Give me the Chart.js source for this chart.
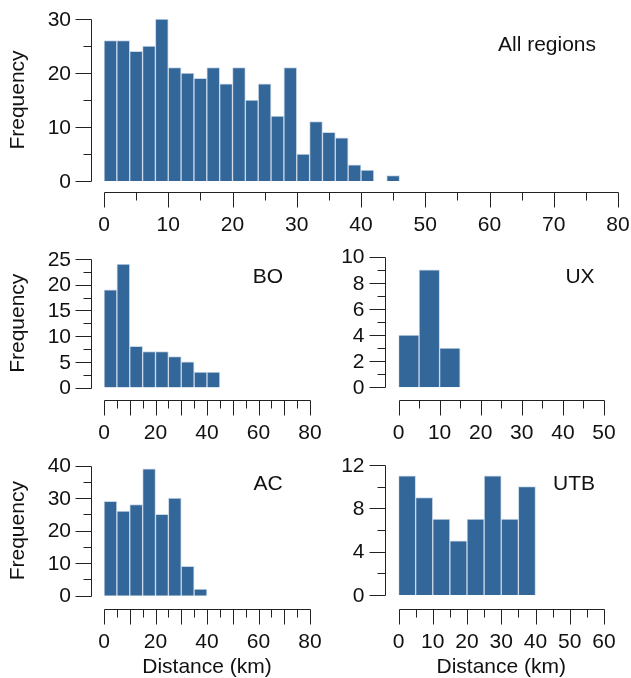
<!DOCTYPE html>
<html>
<head>
<meta charset="utf-8">
<script src="https://cdn.jsdelivr.net/npm/chart.js@4.4.0/dist/chart.umd.min.js"></script>
<style>
  html, body { margin: 0; padding: 0; background: #ffffff; }
  #wrap { position: relative; width: 631px; height: 678px; }
  #wrap canvas { position: absolute; left: 0; top: 0; }
</style>
</head>
<body>
<div id="wrap">
  <canvas id="cAll" width="631" height="678"></canvas>
  <canvas id="cBO" width="631" height="678"></canvas>
  <canvas id="cUX" width="631" height="678"></canvas>
  <canvas id="cAC" width="631" height="678"></canvas>
  <canvas id="cUTB" width="631" height="678"></canvas>
</div>
<script>
// ---------- DATA ----------
// All regions: bins of 2 km (midpoints), counts
const allMids   = [1, 3, 5, 7, 9, 11, 13, 15, 17, 19, 21, 23, 25, 27, 29, 31, 33, 35, 37, 39, 41, 43, 45];
const allCounts = [26, 26, 24, 25, 30, 21, 20, 19, 21, 18, 21, 15, 18, 12, 21, 5, 11, 9, 8, 3, 2, 0, 1];

// BO: bins of 5 km
const boMids   = [2.5, 7.5, 12.5, 17.5, 22.5, 27.5, 32.5, 37.5, 42.5];
const boCounts = [19, 24, 8, 7, 7, 6, 5, 3, 3];

// UX: bins of 5 km
const uxMids   = [2.5, 7.5, 12.5];
const uxCounts = [4, 9, 3];

// AC: bins of 5 km
const acMids   = [2.5, 7.5, 12.5, 17.5, 22.5, 27.5, 32.5, 37.5];
const acCounts = [29, 26, 28, 39, 25, 30, 9, 2];

// UTB: bins of 5 km
const utbMids   = [2.5, 7.5, 12.5, 17.5, 22.5, 27.5, 32.5, 37.5];
const utbCounts = [11, 9, 7, 5, 7, 11, 7, 10];

// Tick values
const allXMajor = [0, 10, 20, 30, 40, 50, 60, 70, 80];
const allXMinor = [5, 15, 25, 35, 45, 55, 65, 75];
const allXLabels = [0, 10, 20, 30, 40, 50, 60, 70, 80];
const allYMajor = [0, 10, 20, 30];
const allYMinor = [5, 15, 25];

const km80Major = [0, 10, 20, 30, 40, 50, 60, 70, 80];
const km80Minor = [5, 15, 25, 35, 45, 55, 65, 75];
const km80Labels = [0, 20, 40, 60, 80];

const km50Major = [0, 10, 20, 30, 40, 50];
const km50Minor = [5, 15, 25, 35, 45];
const km50Labels = [0, 10, 20, 30, 40, 50];

const km60Major = [0, 10, 20, 30, 40, 50, 60];
const km60Minor = [5, 15, 25, 35, 45, 55];
const km60Labels = [0, 10, 20, 30, 40, 50, 60];

const boYMajor = [0, 5, 10, 15, 20, 25];
const boYMinor = [2.5, 7.5, 12.5, 17.5, 22.5];
const uxYMajor = [0, 2, 4, 6, 8, 10];
const uxYMinor = [1, 3, 5, 7, 9];
const acYMajor = [0, 10, 20, 30, 40];
const acYMinor = [5, 15, 25, 35];
const utbYMajor = [0, 4, 8, 12];
const utbYMinor = [2, 6, 10];

const yTitle = 'Frequency';
const xTitle = 'Distance (km)';

// ---------- STYLE / LAYOUT ----------
const W = 631, H = 678;
const BAR_COLOR = '#336699';
const BAR_EDGE = '#cbd8e8';
const INK = '#111111';
const AXIS = '#222222';
const FONT = '21px "Liberation Sans", Arial, Helvetica, sans-serif';

const panels = [
  { id: 'cAll', mids: allMids, counts: allCounts, xMax: 80, yMax: 30,
    area: { left: 104, right: 618, top: 19, bottom: 181 }, yAxisX: 91, xAxisY: 192,
    xMajor: allXMajor, xMinor: allXMinor, xLabels: allXLabels, yMajor: allYMajor, yMinor: allYMinor,
    label: 'All regions', labelPos: [547, 45], yTitle: true, xTitle: false },
  { id: 'cBO', mids: boMids, counts: boCounts, xMax: 80, yMax: 25,
    area: { left: 104, right: 310, top: 259, bottom: 387.5 }, yAxisX: 91, xAxisY: 400,
    xMajor: km80Major, xMinor: km80Minor, xLabels: km80Labels, yMajor: boYMajor, yMinor: boYMinor,
    label: 'BO', labelPos: [268, 277], yTitle: true, xTitle: false },
  { id: 'cUX', mids: uxMids, counts: uxCounts, xMax: 50, yMax: 10,
    area: { left: 398.5, right: 604, top: 256.7, bottom: 387.3 }, yAxisX: 384.5, xAxisY: 400,
    xMajor: km50Major, xMinor: km50Minor, xLabels: km50Labels, yMajor: uxYMajor, yMinor: uxYMinor,
    label: 'UX', labelPos: [580, 277], yTitle: false, xTitle: false },
  { id: 'cAC', mids: acMids, counts: acCounts, xMax: 80, yMax: 40,
    area: { left: 104, right: 310, top: 465.7, bottom: 595.7 }, yAxisX: 91, xAxisY: 609,
    xMajor: km80Major, xMinor: km80Minor, xLabels: km80Labels, yMajor: acYMajor, yMinor: acYMinor,
    label: 'AC', labelPos: [268, 484], yTitle: true, xTitle: true },
  { id: 'cUTB', mids: utbMids, counts: utbCounts, xMax: 60, yMax: 12,
    area: { left: 398.5, right: 604, top: 465, bottom: 595 }, yAxisX: 384.5, xAxisY: 609,
    xMajor: km60Major, xMinor: km60Minor, xLabels: km60Labels, yMajor: utbYMajor, yMinor: utbYMinor,
    label: 'UTB', labelPos: [574, 484], yTitle: false, xTitle: true }
];

const px = v => Math.round(v) + 0.5;

const axesPlugin = {
  id: 'rAxes',
  afterDraw(chart) {
    const p = chart.config.options.plugins.rAxes;
    const ctx = chart.ctx;
    const xs = chart.scales.x, ys = chart.scales.y;
    ctx.save();
    ctx.strokeStyle = AXIS;
    ctx.lineWidth = 1;
    ctx.fillStyle = INK;
    ctx.font = FONT;

    // Y axis
    const yx = px(p.yAxisX);
    const yTop = ys.getPixelForValue(p.yMajor[p.yMajor.length - 1]);
    const yBot = ys.getPixelForValue(p.yMajor[0]);
    ctx.beginPath();
    ctx.moveTo(yx, Math.round(yTop) + 0.5);
    ctx.lineTo(yx, Math.round(yBot) + 0.5);
    p.yMajor.forEach(v => {
      const y = Math.round(ys.getPixelForValue(v)) + 0.5;
      ctx.moveTo(yx, y); ctx.lineTo(yx - 16, y);
    });
    p.yMinor.forEach(v => {
      const y = Math.round(ys.getPixelForValue(v)) + 0.5;
      ctx.moveTo(yx, y); ctx.lineTo(yx - 8, y);
    });
    ctx.stroke();
    ctx.textAlign = 'right';
    ctx.textBaseline = 'middle';
    p.yMajor.forEach(v => {
      ctx.fillText(String(v), p.yAxisX - 20, ys.getPixelForValue(v) + 1);
    });

    // X axis
    const xy = px(p.xAxisY);
    const xL = xs.getPixelForValue(p.xMajor[0]);
    const xR = xs.getPixelForValue(p.xMajor[p.xMajor.length - 1]);
    ctx.beginPath();
    ctx.moveTo(Math.round(xL) + 0.5, xy);
    ctx.lineTo(Math.round(xR) + 0.5, xy);
    p.xMajor.forEach(v => {
      const x = Math.round(xs.getPixelForValue(v)) + 0.5;
      ctx.moveTo(x, xy); ctx.lineTo(x, xy + 15);
    });
    p.xMinor.forEach(v => {
      const x = Math.round(xs.getPixelForValue(v)) + 0.5;
      ctx.moveTo(x, xy); ctx.lineTo(x, xy + 8);
    });
    ctx.stroke();
    ctx.textAlign = 'center';
    ctx.textBaseline = 'middle';
    p.xLabels.forEach(v => {
      ctx.fillText(String(v), xs.getPixelForValue(v), p.xAxisY + 33);
    });

    // Panel label
    ctx.textAlign = 'center';
    ctx.fillText(p.label, p.labelPos[0], p.labelPos[1]);

    // Titles
    if (p.xTitle) {
      ctx.fillText(xTitle, (xL + xR) / 2, 667);
    }
    if (p.yTitle) {
      ctx.save();
      ctx.translate(18, (yTop + yBot) / 2);
      ctx.rotate(-Math.PI / 2);
      ctx.fillText(yTitle, 0, 0);
      ctx.restore();
    }
    ctx.restore();
  }
};

panels.forEach(p => {
  const data = p.mids.map((m, i) => ({ x: m, y: p.counts[i] }));
  new Chart(document.getElementById(p.id), {
    type: 'bar',
    data: {
      datasets: [{
        data: data,
        backgroundColor: BAR_COLOR,
        borderColor: BAR_EDGE,
        borderWidth: 1,
        barPercentage: 1.0,
        categoryPercentage: 1.0
      }]
    },
    options: {
      responsive: false,
      animation: false,
      devicePixelRatio: 1,
      layout: {
        padding: {
          left: p.area.left,
          right: W - p.area.right,
          top: p.area.top,
          bottom: H - p.area.bottom
        }
      },
      plugins: {
        legend: { display: false },
        tooltip: { enabled: false },
        rAxes: p
      },
      scales: {
        x: { type: 'linear', min: 0, max: p.xMax, display: false, offset: false },
        y: { type: 'linear', min: 0, max: p.yMax, display: false }
      }
    },
    plugins: [axesPlugin]
  });
});
</script>
</body>
</html>
